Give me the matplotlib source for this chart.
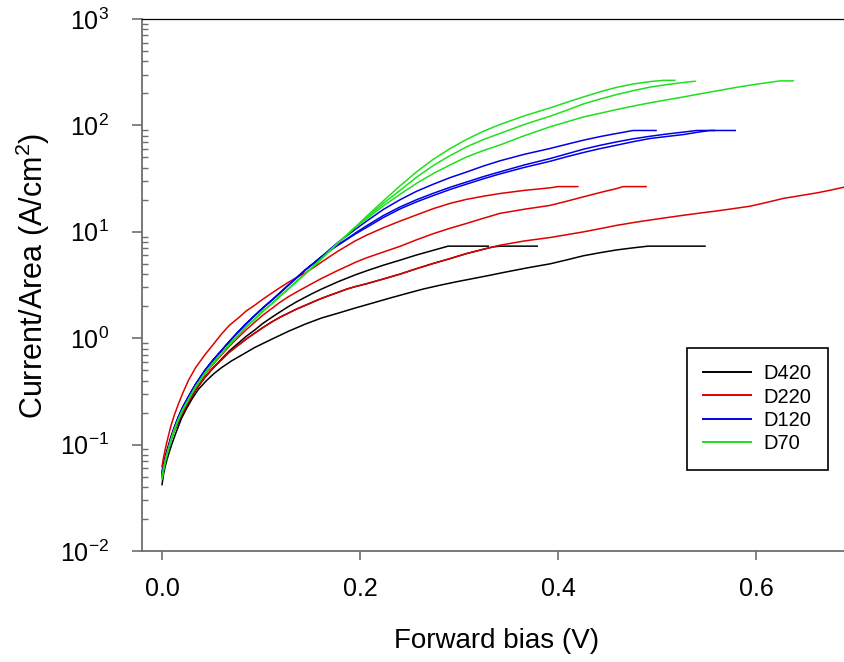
import matplotlib
matplotlib.use('Agg')
import matplotlib.pyplot as plt
from matplotlib.ticker import LogLocator, NullFormatter, FixedLocator

v_start = [0.0, 0.0015, 0.003, 0.0045, 0.0064, 0.009, 0.0125, 0.0165, 0.021, 0.0266, 0.034,
           0.0434, 0.052, 0.0603, 0.068, 0.0771, 0.085, 0.0939, 0.102, 0.1108, 0.119, 0.1276,
           0.136, 0.1444, 0.153, 0.1613, 0.17, 0.178, 0.187, 0.195, 0.2067]
v_mid = [0.2235, 0.2404, 0.257, 0.274, 0.291, 0.3078, 0.3246, 0.3414, 0.366, 0.392, 0.409,
         0.4256, 0.4425, 0.4593, 0.476]

# D420 (black)
d420_j1 = [0.05, 0.06, 0.07, 0.08, 0.09, 0.11, 0.135, 0.162, 0.198, 0.245, 0.325,
           0.43, 0.53, 0.64, 0.76, 0.9, 1.04, 1.2, 1.38, 1.57, 1.76, 1.98,
           2.2, 2.42, 2.66, 2.9, 3.15, 3.4, 3.67, 3.93, 4.3]
d420_v1_end = [0.2235, 0.2404, 0.257, 0.274, 0.289, 0.3296]
d420_j1_end = [4.85, 5.41, 6.05, 6.7, 7.33, 7.33]
d420_j2 = [0.055, 0.065, 0.074, 0.083, 0.093, 0.112, 0.138, 0.165, 0.2, 0.25, 0.33,
           0.43, 0.53, 0.63, 0.74, 0.86, 0.98, 1.12, 1.26, 1.42, 1.57, 1.72,
           1.88, 2.03, 2.2, 2.37, 2.54, 2.7, 2.9, 3.05, 3.25]
d420_v2_end = [0.2235, 0.2404, 0.257, 0.274, 0.291, 0.3078, 0.3246, 0.334, 0.341, 0.379]
d420_j2_end = [3.6, 4.0, 4.5, 5.04, 5.6, 6.25, 6.85, 7.2, 7.33, 7.33]
d420_v3 = [0.0, 0.0015, 0.003, 0.005, 0.0075, 0.0098, 0.0135, 0.0165, 0.0199, 0.025, 0.0305,
           0.0367, 0.045, 0.0525, 0.0603, 0.07, 0.08, 0.0939, 0.11, 0.1276, 0.145, 0.1613,
           0.178, 0.195, 0.2135, 0.23, 0.247, 0.264, 0.281, 0.298, 0.3145, 0.331, 0.348,
           0.37, 0.392, 0.409, 0.4256, 0.442, 0.459, 0.475, 0.491, 0.5485]
d420_j3 = [0.042, 0.052, 0.061, 0.072, 0.086, 0.10, 0.125, 0.148, 0.178, 0.22, 0.27,
           0.33, 0.40, 0.465, 0.53, 0.61, 0.69, 0.82, 0.97, 1.16, 1.36, 1.55,
           1.72, 1.92, 2.15, 2.38, 2.63, 2.9, 3.15, 3.4, 3.64, 3.9, 4.2,
           4.6, 5.0, 5.45, 5.95, 6.35, 6.75, 7.05, 7.33, 7.33]

# D220 (red)
d220_j1 = [0.062, 0.075, 0.088, 0.102, 0.12, 0.15, 0.19, 0.24, 0.305, 0.40, 0.53,
           0.70, 0.88, 1.1, 1.32, 1.55, 1.8, 2.05, 2.33, 2.65, 2.98, 3.35,
           3.72, 4.1, 4.6, 5.2, 5.9, 6.6, 7.4, 8.2, 9.3]
d220_v1_end = [0.2235, 0.2404, 0.257, 0.274, 0.291, 0.3078, 0.3246, 0.3414, 0.366, 0.392, 0.40, 0.42]
d220_j1_end = [10.9, 12.6, 14.4, 16.5, 18.5, 20.2, 21.6, 22.9, 24.5, 25.9, 26.6, 26.6]
d220_j2 = [0.055, 0.066, 0.076, 0.086, 0.098, 0.118, 0.146, 0.178, 0.215, 0.262, 0.345,
           0.46, 0.575, 0.70, 0.84, 1.02, 1.2, 1.42, 1.65, 1.9, 2.17, 2.45,
           2.72, 3.0, 3.32, 3.65, 4.0, 4.35, 4.75, 5.15, 5.7]
d220_v2_end = v_mid[:-1] + [0.466, 0.489]
d220_j2_end = [6.45, 7.3, 8.4, 9.6, 10.8, 12.0, 13.4, 14.9, 16.3, 17.7, 19.4,
               21.3, 23.4, 25.5, 26.6, 26.6]
d220_j3 = d420_j2
d220_v3_end = v_mid + [0.4929, 0.51, 0.5266, 0.5435, 0.5603, 0.577, 0.594, 0.61, 0.6276,
                       0.645, 0.6613, 0.675, 0.69]
d220_j3_end = [3.6, 4.0, 4.5, 5.04, 5.6, 6.25, 6.85, 7.48, 8.2, 8.84, 9.4,
               9.98, 10.7, 11.5, 12.2, 12.9, 13.6, 14.3, 15.0, 15.7, 16.5, 17.4, 18.8,
               20.6, 21.9, 23.2, 24.6, 26.4]

# D120 (blue)
d120_j_start = [0.05, 0.061, 0.071, 0.082, 0.095, 0.116, 0.145, 0.182, 0.225, 0.281, 0.37,
                0.50, 0.63, 0.77, 0.93, 1.15, 1.37, 1.64, 1.93, 2.27, 2.66, 3.15,
                3.7, 4.36, 5.05, 5.85]
d120_v1_end = v_start[26:] + v_mid + [0.499]
d120_j1_end = [6.9, 8.0, 9.2, 10.5, 12.6,
               16.2, 20.0, 24.0, 28.0, 32.3, 36.5, 41.5, 46.5, 53.5, 60.7, 66.5,
               72.6, 78.5, 84.0, 89.6, 89.6]
d120_v2_end = v_start[26:] + v_mid + [0.4929, 0.51, 0.5266, 0.54, 0.558]
d120_j2_end = [6.7, 7.6, 8.6, 9.7, 11.4,
               14.2, 17.1, 20.0, 23.0, 26.2, 29.4, 33.0, 36.6, 42.5, 48.8, 54.0,
               59.7, 65.0, 70.0, 74.8, 79.0, 83.0, 86.5, 89.6, 89.6]
d120_v3_end = v_start[26:] + v_mid + [0.4929, 0.51, 0.5266, 0.54, 0.5535, 0.579]
d120_j3_end = [6.7, 7.5, 8.5, 9.5, 11.0,
               13.6, 16.4, 19.1, 21.9, 25.0, 28.1, 31.5, 35.0, 40.3, 46.0, 50.8,
               55.6, 60.5, 65.2, 70.3, 75.3, 78.7, 82.0, 86.0, 89.6, 89.6]

# D70 (green)
d70_j_start = [0.048, 0.058, 0.068, 0.078, 0.09, 0.11, 0.138, 0.172, 0.213, 0.265, 0.35,
               0.47, 0.59, 0.72, 0.87, 1.07, 1.28, 1.52, 1.8, 2.1, 2.48, 2.9,
               3.42, 4.0, 4.75, 5.6, 6.7, 7.9, 9.4, 11.0]
d70_v1_end = [0.2067] + v_mid + [0.4929, 0.5064, 0.518]
d70_j1_end = [14.0, 19.5, 27.0, 36.5, 48.0, 60.5, 74.0, 88.0, 102.0, 123.0, 146.0, 165.0,
              185.0, 207.0, 228.0, 245.0, 258.0, 265.0, 265.0]
d70_v2_end = [0.2067] + v_mid + [0.4929, 0.51, 0.5266, 0.5384]
d70_j2_end = [13.6, 18.5, 24.5, 32.5, 42.0, 52.0, 63.0, 73.5, 84.0, 102.0, 122.0, 139.0,
              159.0, 177.0, 195.0, 212.0, 229.0, 242.0, 253.0, 260.0]
d70_v3_end = [0.2067] + v_mid + [0.4929, 0.51, 0.5266, 0.5435, 0.5603, 0.577, 0.594, 0.61,
                                 0.6242, 0.6377]
d70_j3_end = [13.2, 17.5, 22.5, 28.5, 35.3, 42.5, 50.6, 58.0, 65.5, 80.0, 97.0, 108.0,
              120.0, 130.0, 141.0, 152.0, 163.0, 174.0, 185.0, 198.0, 211.0, 225.0, 239.0,
              251.0, 262.0, 262.0]

labels = ['D420', 'D220', 'D120', 'D70']
colors = ['#000000', '#e00000', '#0000e6', '#1ee01e']
groups = [
    [(v_start + d420_v1_end, d420_j1 + d420_j1_end),
     (v_start + d420_v2_end, d420_j2 + d420_j2_end),
     (d420_v3, d420_j3)],
    [(v_start + d220_v1_end, d220_j1 + d220_j1_end),
     (v_start + d220_v2_end, d220_j2 + d220_j2_end),
     (v_start + d220_v3_end, d220_j3 + d220_j3_end)],
    [(v_start[:26] + d120_v1_end, d120_j_start + d120_j1_end),
     (v_start[:26] + d120_v2_end, d120_j_start + d120_j2_end),
     (v_start[:26] + d120_v3_end, d120_j_start + d120_j3_end)],
    [(v_start[:30] + d70_v1_end, d70_j_start + d70_j1_end),
     (v_start[:30] + d70_v2_end, d70_j_start + d70_j2_end),
     (v_start[:30] + d70_v3_end, d70_j_start + d70_j3_end)],
]
x_ticks = [0.0, 0.2, 0.4, 0.6]
y_ticks = [1e-2, 1e-1, 1e0, 1e1, 1e2, 1e3]
y_ticklabels = ['$10^{-2}$', '$10^{-1}$', '$10^{0}$', '$10^{1}$', '$10^{2}$', '$10^{3}$']

plt.rcParams['font.family'] = ['Liberation Sans', 'DejaVu Sans']
plt.rcParams['mathtext.fontset'] = 'custom'
plt.rcParams['mathtext.rm'] = 'Liberation Sans'
plt.rcParams['mathtext.it'] = 'Liberation Sans:italic'
plt.rcParams['mathtext.bf'] = 'Liberation Sans:bold'

W, H = 845, 662
fig = plt.figure(figsize=(W / 100, H / 100), dpi=100)
# axes box in pixels: left 142, top 19, bottom 551, right edge of the image
ax = fig.add_axes([142 / W, (H - 551) / H, (W - 142) / W, (551 - 19) / H])

for (label, color, curves) in zip(labels, colors, groups):
    for k, (v, j) in enumerate(curves):
        ax.plot(v, j, color=color, lw=1.1, label=label if k == 0 else None,
                solid_joinstyle='round')

ax.set_yscale('log')
ax.set_xlim(-0.0202, 0.6899)
ax.set_ylim(1e-2, 1e3)

ax.xaxis.set_major_locator(FixedLocator(x_ticks))
ax.set_xticklabels(['%.1f' % t for t in x_ticks])
ax.yaxis.set_major_locator(FixedLocator(y_ticks))
ax.set_yticklabels(y_ticklabels)
ax.yaxis.set_minor_locator(LogLocator(base=10, subs=range(2, 10), numticks=20))
ax.yaxis.set_minor_formatter(NullFormatter())

axis_grey = '#6e6e6e'
for side in ['left', 'bottom']:
    ax.spines[side].set_color(axis_grey)
    ax.spines[side].set_linewidth(1.3)
ax.spines['top'].set_color('black')
ax.spines['top'].set_linewidth(0.9)
ax.spines['right'].set_visible(False)

ax.tick_params(axis='x', which='major', direction='out', length=6.5, width=1.2,
               color=axis_grey, labelsize=18, pad=12)
ax.tick_params(axis='y', which='major', direction='out', length=7, width=1.2,
               color=axis_grey, labelsize=18, pad=17)
ax.tick_params(axis='y', which='minor', direction='in', length=4.5, width=1.0,
               color=axis_grey)

ax.set_xlabel('Forward bias (V)', fontsize=20, va='baseline')
ax.xaxis.set_label_coords((497 - 142) / (W - 142), (551 - 648) / (551 - 19))
ax.set_ylabel('Current/Area (A/cm$^2$)', fontsize=22)
ax.yaxis.set_label_coords((52 - 142) / (W - 142), (551 - 276) / (551 - 19))

leg = ax.legend(loc='upper left', bbox_to_anchor=(687 / W, 1 - 348 / H),
                bbox_transform=fig.transFigure, borderaxespad=0, fontsize=14.5,
                frameon=True, fancybox=False, framealpha=1, edgecolor='black',
                handlelength=2.4, handletextpad=0.6, labelspacing=0.22, borderpad=0.8)
leg.get_frame().set_linewidth(1.2)
for line in leg.get_lines():
    line.set_linewidth(1.4)

fig.savefig('out.png', dpi=100)
